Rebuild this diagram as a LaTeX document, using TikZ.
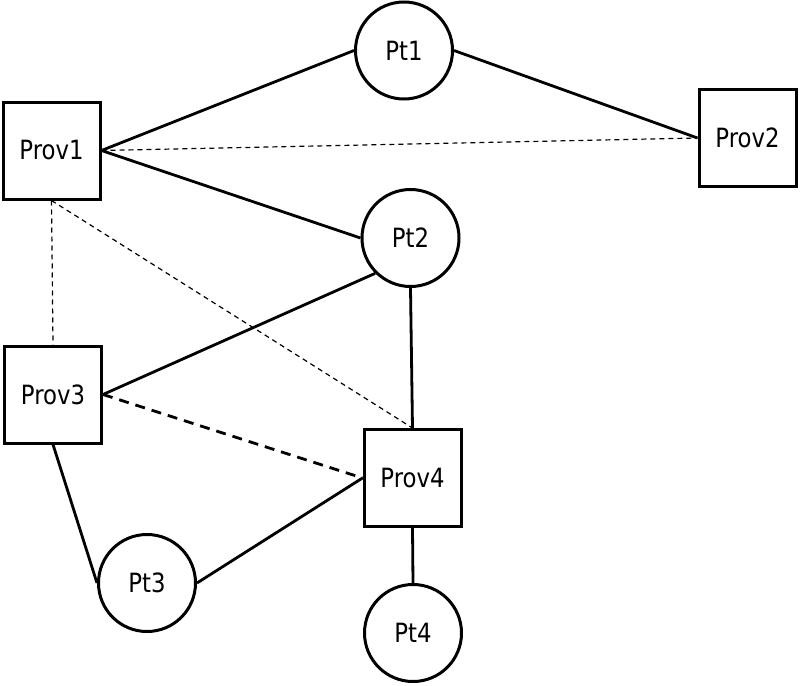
\documentclass[tikz,border=0pt]{standalone}
\usepackage{fontspec}
\setmainfont{DejaVu Sans}[FakeStretch=0.86]
\begin{document}
\begin{tikzpicture}[x=1pt,y=-1pt,
  prov/.style={draw, line width=3pt, rectangle, minimum size=97pt, inner sep=0pt, font=\fontsize{26.5}{28}\selectfont},
  pt/.style={draw, line width=3pt, circle, minimum size=97pt, inner sep=0pt, font=\fontsize{26.5}{28}\selectfont},
  solidedge/.style={line width=2.8pt},
  thindash/.style={line width=1.2pt, dash pattern=on 5pt off 4pt},
  thickdash/.style={line width=2.8pt, dash pattern=on 10pt off 7pt}]
\useasboundingbox (0,0) rectangle (800,685);
\node[prov] (prov1) at (51.5,150.5) {Prov1};
\node[prov] (prov2) at (747.5,138) {Prov2};
\node[prov] (prov3) at (53,394.5) {Prov3};
\node[prov] (prov4) at (412.5,478) {Prov4};
\node[pt] (pt1) at (404,50.5) {Pt1};
\node[pt] (pt2) at (410.5,238) {Pt2};
\node[pt] (pt3) at (147,583) {Pt3};
\node[pt] (pt4) at (413,633) {Pt4};
\draw[solidedge] (prov1.east) -- (pt1.west);
\draw[solidedge] (pt1.east) -- (prov2.west);
\draw[thindash] (prov1.east) -- (prov2.west);
\draw[solidedge] (prov1.east) -- (pt2.west);
\draw[thindash] (prov1.south) -- (prov3.north);
\draw[thindash] (prov1.south) -- (prov4.north);
\draw[solidedge] (pt2.south west) -- (prov3.east);
\draw[solidedge] (pt2.south) -- (prov4.north);
\draw[thickdash] (prov3.east) -- (prov4.west);
\draw[solidedge] (prov3.south) -- (pt3.west);
\draw[solidedge] (pt3.east) -- (prov4.west);
\draw[solidedge] (prov4.south) -- (pt4.north);
\end{tikzpicture}
\end{document}
